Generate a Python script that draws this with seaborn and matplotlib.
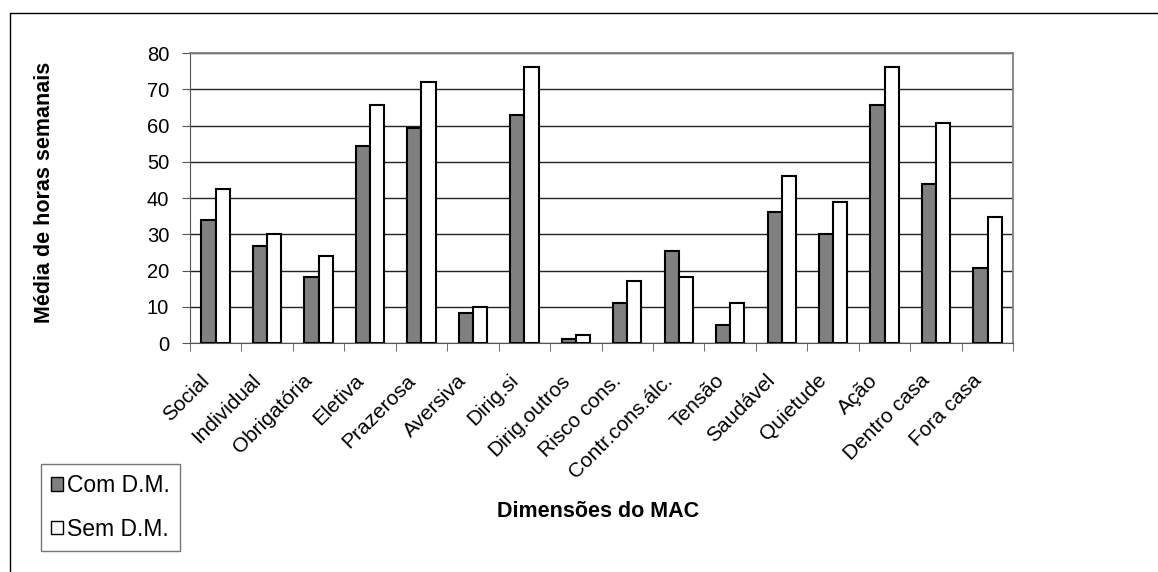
import pandas as pd
import numpy as np
import seaborn as sns
import matplotlib.pyplot as plt
import matplotlib.transforms as mtransforms
from matplotlib.patches import Patch
from matplotlib.lines import Line2D

# data
categories = ["Social", "Individual", "Obrigatória", "Eletiva", "Prazerosa", "Aversiva",
              "Dirig.si", "Dirig.outros", "Risco cons.", "Contr.cons.álc.", "Tensão",
              "Saudável", "Quietude", "Ação", "Dentro casa", "Fora casa"]
com_dm = [34.0, 26.9, 18.2, 54.3, 59.3, 8.3, 63.0, 1.2, 11.0, 25.3, 4.9, 36.1, 30.1, 65.7, 44.0, 20.8]
sem_dm = [42.6, 30.2, 24.1, 65.7, 71.9, 9.9, 76.1, 2.3, 17.1, 18.1, 11.0, 46.1, 38.9, 76.1, 60.8, 34.9]
groups = ["Com D.M.", "Sem D.M."]

df = pd.DataFrame({
    "cat": categories * 2,
    "grupo": [groups[0]] * len(categories) + [groups[1]] * len(categories),
    "horas": com_dm + sem_dm,
})

sns.set_style("white")
plt.rcParams['font.family'] = ['Liberation Sans', 'DejaVu Sans']
plt.rcParams['text.color'] = 'black'
plt.rcParams['axes.labelcolor'] = 'black'
plt.rcParams['xtick.color'] = 'black'
plt.rcParams['ytick.color'] = 'black'

fig = plt.figure(figsize=(11.58, 5.72), dpi=100)
ax = fig.add_axes([0.164, 0.4003, 0.711, 0.507])

sns.barplot(data=df, x="cat", y="horas", hue="grupo", order=categories,
            palette=["#808080", "#ffffff"], edgecolor="black", linewidth=1.5,
            width=0.55, ax=ax, legend=False, errorbar=None)

ax.set_xlim(-0.5, len(categories) - 0.5)
ax.set_ylim(0, 80)
ax.set_yticks(np.arange(0, 81, 10))
ax.yaxis.grid(True, color="#222222", linewidth=1)
ax.set_axisbelow(True)
# plot area frame: gray top/right, darker axis lines
for s in ["top", "right"]:
    ax.spines[s].set_visible(True)
    ax.spines[s].set_color("#808080")
    ax.spines[s].set_linewidth(1.3)
ax.spines["left"].set_color("#555555")
ax.spines["bottom"].set_color("#555555")

ax.tick_params(axis="y", labelsize=14.5, left=True, length=6, color="#555555", pad=9)
ax.set_xticks(np.arange(len(categories)))
ax.set_xticklabels(categories, rotation=45, ha="right", rotation_mode="anchor", fontsize=15)
ax.tick_params(axis="x", length=0, pad=7)
ax.set_xticks(np.arange(-0.5, len(categories)), minor=True)
ax.tick_params(axis="x", which="minor", bottom=True, length=6, color="#555555")

# shift the rotated labels down-left like the original
offset = mtransforms.ScaledTranslation(-0.16, -0.18, fig.dpi_scale_trans)
for lbl in ax.get_xticklabels():
    lbl.set_transform(lbl.get_transform() + offset)

ax.set_xlabel("Dimensões do MAC", fontsize=15.5, fontweight="bold")
ax.xaxis.set_label_coords(0.496, -0.545)
ax.set_ylabel("Média de horas semanais", fontsize=15.5, fontweight="bold")
ax.yaxis.set_label_coords(-0.164, 0.521)

handles = [Patch(facecolor="#808080", edgecolor="black"),
           Patch(facecolor="white", edgecolor="black")]
leg = fig.legend(handles, groups, loc="lower left", bbox_to_anchor=(0.035, 0.037),
                 bbox_transform=fig.transFigure, borderaxespad=0, fontsize=16.5,
                 frameon=True, fancybox=False, handlelength=0.55, handleheight=0.55,
                 handletextpad=0.15, borderpad=0.45, labelspacing=0.9)
leg.get_frame().set_edgecolor("#555555")
leg.get_frame().set_linewidth(1)

# outer frame lines (top and left)
fig.add_artist(Line2D([10 / 1158, 1], [1 - 13 / 572, 1 - 13 / 572], color="black", linewidth=1))
fig.add_artist(Line2D([10 / 1158, 10 / 1158], [0, 1 - 13 / 572], color="black", linewidth=1))

plt.savefig("out.png", dpi=100)
